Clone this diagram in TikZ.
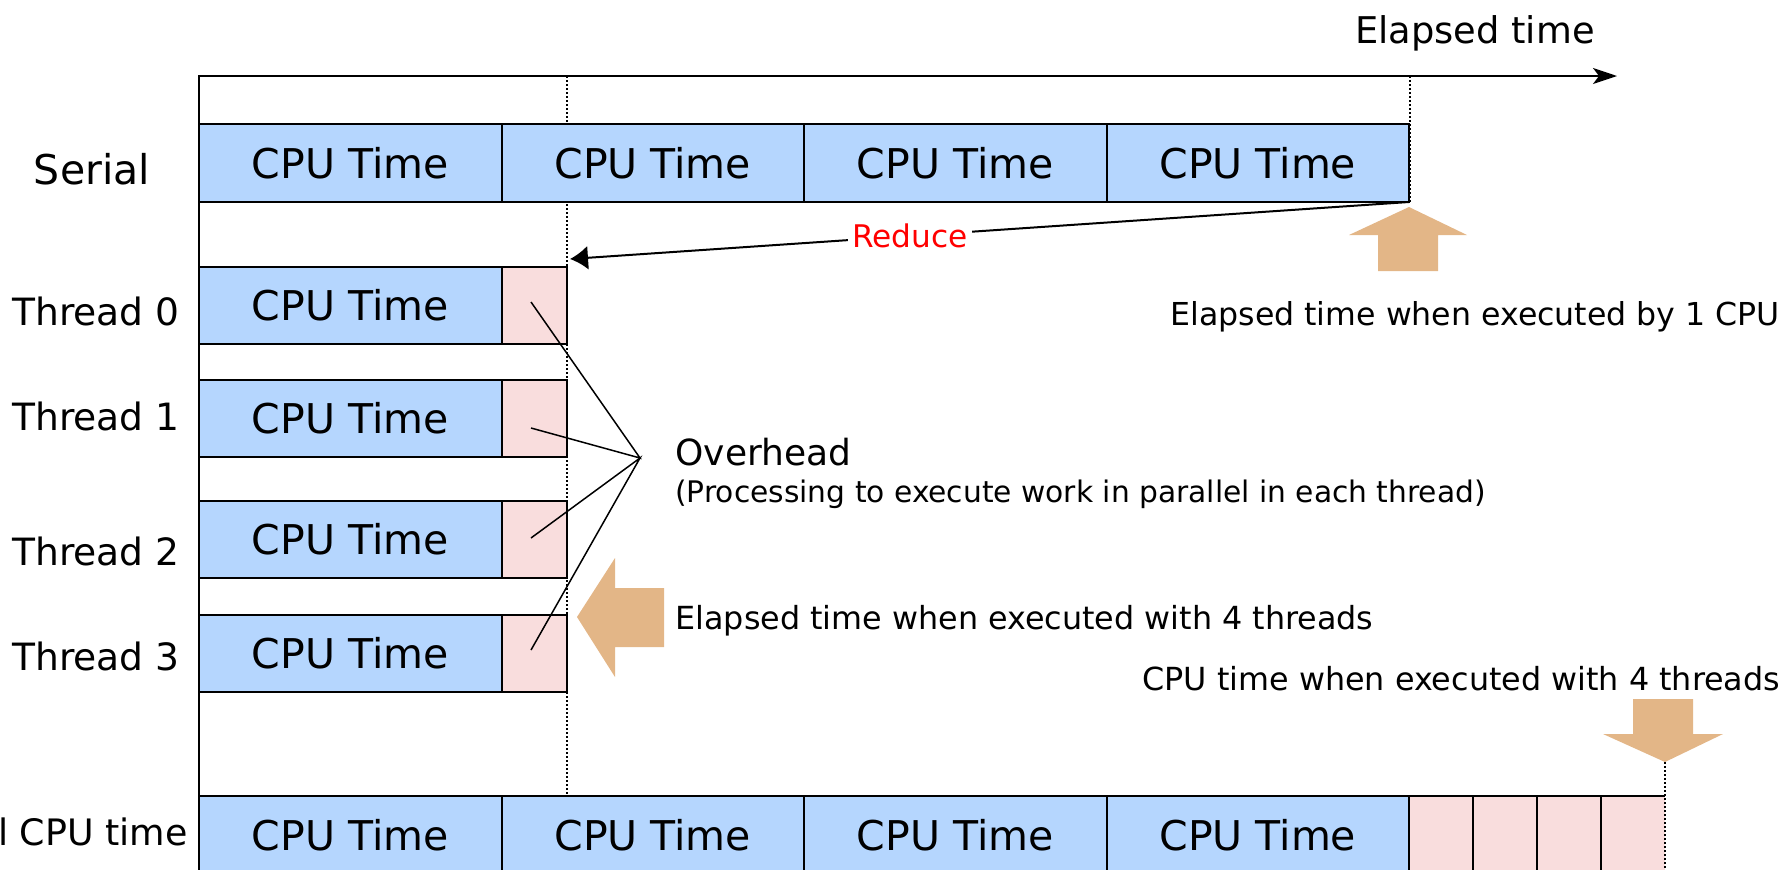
\documentclass[tikz,border=0pt]{standalone}
\usepackage{fontspec}
\setmainfont{DejaVu Sans}
\usetikzlibrary{arrows.meta}
\definecolor{cpublue}{RGB}{181,214,254}
\definecolor{ovpink}{RGB}{249,221,221}
\definecolor{marker}{RGB}{227,182,135}
\definecolor{reducered}{RGB}{255,0,0}
\newcommand{\fs}[1]{\fontsize{#1}{#1}\selectfont}

\begin{document}
\begin{tikzpicture}[x=0.5pt,y=-0.5pt,
  cpubox/.style={draw, line width=1pt, fill=cpublue, anchor=north west,
    inner sep=0pt, outer sep=0pt, minimum width=151.25pt,
    minimum height=38.5pt, font=\fs{20.5}},
  ovbox/.style={draw, line width=1pt, fill=ovpink, anchor=north west,
    inner sep=0pt, outer sep=0pt, minimum width=32.75pt, minimum height=38.5pt},
  cellbox/.style={ovbox, minimum width=32pt, minimum height=39pt},
  rowlabel/.style={anchor=base east, inner sep=0pt, font=\fs{18.8}},
  note/.style={anchor=base west, inner sep=0pt, font=\fs{15.9}},
  guide/.style={line width=1pt, dash pattern=on 1pt off 1pt},
  pointer/.style={line width=0.75pt},
  bigarrow/.style={fill=marker, draw=none},
]
\path[use as bounding box] (0,0) rectangle (1790,869);
\clip (0,0) rectangle (1790,869);

% time axis
\coordinate (axstart) at (198,76);
\coordinate (axend) at (1617,76);
\coordinate (axbottom) at (199,880);
\draw[line width=1pt, -{Stealth[length=12pt,width=8pt,inset=3pt]}] (axstart) -- (axend);
\draw[line width=1pt] (199,76) -- (axbottom);
\node[anchor=base, inner sep=0pt, font=\fs{18.4}] (axlabel) at (1475,43) {Elapsed time};

% dotted guides
\coordinate (g4top) at (567,76);
\coordinate (g4bot) at (567,796);
\coordinate (g1top) at (1410,76);
\coordinate (g1bot) at (1410,204);
\draw[guide] (g4top) -- (g4bot);
\draw[guide] (g1top) -- (g1bot);

% serial run
\node[rowlabel, anchor=base, font=\fs{20.5}] (lserial) at (92,184) {Serial};
\node[cpubox, minimum height=39pt] (s1) at (199,124) {CPU Time};
\node[cpubox, minimum height=39pt] (s2) at (501.5,124) {CPU Time};
\node[cpubox, minimum height=39pt] (s3) at (804,124) {CPU Time};
\node[cpubox, minimum height=39pt] (s4) at (1106.5,124) {CPU Time};

% threads
\node[rowlabel] (l0) at (180,325) {Thread 0};
\node[rowlabel] (l1) at (180,430) {Thread 1};
\node[rowlabel] (l2) at (180,565) {Thread 2};
\node[rowlabel] (l3) at (180,670) {Thread 3};
\node[cpubox] (t0) at (199,266.5) {CPU Time};
\node[cpubox] (t1) at (199,380) {CPU Time};
\node[cpubox] (t2) at (199,501) {CPU Time};
\node[cpubox] (t3) at (199,615) {CPU Time};
\node[ovbox] (o0) at (t0.north east) {};
\node[ovbox] (o1) at (t1.north east) {};
\node[ovbox] (o2) at (t2.north east) {};
\node[ovbox] (o3) at (t3.north east) {};

% total CPU time (label runs past the left edge)
\node[rowlabel, font=\fs{18.2}] (ltotal) at (188,845) {Total CPU time};
\node[cpubox, minimum height=39pt] (b1) at (199,796) {CPU Time};
\node[cpubox, minimum height=39pt] (b2) at (501.5,796) {CPU Time};
\node[cpubox, minimum height=39pt] (b3) at (804,796) {CPU Time};
\node[cpubox, minimum height=39pt] (b4) at (1106.5,796) {CPU Time};
\node[cellbox] (c1) at (b4.north east) {};
\node[cellbox] (c2) at (c1.north east) {};
\node[cellbox] (c3) at (c2.north east) {};
\node[cellbox, draw=none] (c4) at (c3.north east) {};
\draw[line width=1pt] (c4.north east) -- (c4.north west) -- (c4.south west);

% reduction
\coordinate (reduceend) at (570,259);
\draw[line width=1pt, -{Latex[length=9pt,width=12pt]}] (s4.south east) --
  node[pos=0.595, fill=white, text=reducered, inner sep=2pt, font=\fs{15.6}] (reduce) {Reduce}
  (reduceend);

% overhead pointers
\coordinate (hub) at (640,458);
\coordinate (e0) at (531,302);
\coordinate (e1) at (531,428);
\coordinate (e2) at (531,538);
\coordinate (e3) at (531,650);
\draw[pointer] (e0) -- (hub) -- (e1);
\draw[pointer] (e2) -- (hub) -- (e3);
\node[anchor=base west, inner sep=0pt, font=\fs{18}] (overhead) at (675,465) {Overhead};
\node[anchor=base west, inner sep=0pt, font=\fs{14.85}] (overnote) at (675,502)
  {(Processing to execute work in parallel in each thread)};

% elapsed time with one CPU
\fill[bigarrow] (1409,207) -- (1467,235) -- (1438,235) -- (1438,271) -- (1378,271)
  -- (1378,235) -- (1349,235) -- cycle;
\node[note, font=\fs{15.8}] (serialnote) at (1170,325) {Elapsed time when executed by 1 CPU};

% elapsed time with four threads
\fill[bigarrow] (577,617) -- (615,558) -- (615,588) -- (664,588) -- (664,647)
  -- (615,647) -- (615,677) -- cycle;
\node[note] (threadnote) at (675,629) {Elapsed time when executed with 4 threads};

% CPU time with four threads
\coordinate (downtip) at (1665,762);
\fill[bigarrow] (downtip) -- (1723,734) -- (1693,734) -- (1693,699) -- (1633,699)
  -- (1633,734) -- (1603,734) -- cycle;
\draw[guide] (downtip) -- (c4.south east);
\node[note] (cpunote) at (1142,690) {CPU time when executed with 4 threads};
\end{tikzpicture}
\end{document}
